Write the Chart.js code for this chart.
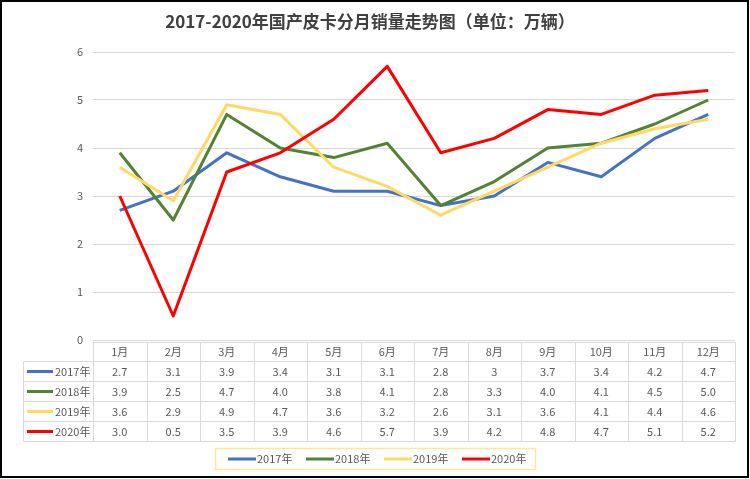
<!DOCTYPE html>
<html>
<head>
<meta charset="utf-8">
<script src="https://cdn.jsdelivr.net/npm/chart.js@4/dist/chart.umd.min.js"></script>
<style>
body { margin: 0; background: #fff; }
canvas { display: block; }
</style>
</head>
<body>
<canvas id="chart" width="750" height="479"></canvas>
<script>
let months = ["1月", "2月", "3月", "4月", "5月", "6月", "7月", "8月", "9月", "10月", "11月", "12月"];
let seriesNames = ["2017年", "2018年", "2019年", "2020年"];
let sales2017 = [2.7, 3.1, 3.9, 3.4, 3.1, 3.1, 2.8, 3, 3.7, 3.4, 4.2, 4.7];
let sales2018 = [3.9, 2.5, 4.7, 4.0, 3.8, 4.1, 2.8, 3.3, 4.0, 4.1, 4.5, 5.0];
let sales2019 = [3.6, 2.9, 4.9, 4.7, 3.6, 3.2, 2.6, 3.1, 3.6, 4.1, 4.4, 4.6];
let sales2020 = [3.0, 0.5, 3.5, 3.9, 4.6, 5.7, 3.9, 4.2, 4.8, 4.7, 5.1, 5.2];
let yMin = 0, yMax = 6, yStep = 1;

let title = "2017-2020年国产皮卡分月销量走势图（单位：万辆）";
let colors = ["#4472C4", "#548235", "#FFD966", "#FF0000"];
let allSales = [sales2017, sales2018, sales2019, sales2020];
let font = '"Noto Sans CJK SC", "Noto Sans", sans-serif';
let textColor = "#595959";
let lineColor = "#D9D9D9";

// the 2017 row keeps its raw numbers ("3"), the others show one decimal
function cellText(s, v)
{
    return s == 0 ? String(v) : v.toFixed(1);
}

let extras = {
    id: "extras",
    afterDraw: function(chart)
    {
        let ctx = chart.ctx;
        let x = chart.scales.x;
        let step = x.getPixelForValue(1) - x.getPixelForValue(0);
        let left = x.getPixelForValue(0) - step / 2;
        let right = x.getPixelForValue(months.length - 1) + step / 2;
        let rows = [342, 361.5, 381.5, 401.5, 421.5, 441.5];
        let labelLeft = 23.5;

        ctx.save();

        // title
        ctx.fillStyle = "#404040";
        ctx.font = "bold 17px " + font;
        ctx.textAlign = "center";
        ctx.textBaseline = "middle";
        ctx.fillText(title, 370, 22);

        // table grid
        ctx.strokeStyle = lineColor;
        ctx.lineWidth = 1;
        ctx.beginPath();
        ctx.moveTo(left, rows[0] + 0.5);
        ctx.lineTo(right, rows[0] + 0.5);
        for (let r = 1; r < rows.length; r++)
        {
            ctx.moveTo(labelLeft, rows[r]);
            ctx.lineTo(right, rows[r]);
        }
        ctx.moveTo(labelLeft, rows[1]);
        ctx.lineTo(labelLeft, rows[rows.length - 1]);
        for (let i = 0; i <= months.length; i++)
        {
            let px = Math.round(left + i * step) + 0.5;
            ctx.moveTo(px, rows[0]);
            ctx.lineTo(px, rows[rows.length - 1]);
        }
        ctx.stroke();

        // table text
        ctx.font = "11px " + font;
        ctx.fillStyle = textColor;
        ctx.textAlign = "center";
        for (let i = 0; i < months.length; i++)
        {
            let cx = x.getPixelForValue(i);
            ctx.fillText(months[i], cx, (rows[0] + rows[1]) / 2);
            for (let s = 0; s < allSales.length; s++)
            {
                ctx.fillText(cellText(s, allSales[s][i]), cx, (rows[s + 1] + rows[s + 2]) / 2);
            }
        }

        // row labels with line keys
        ctx.textAlign = "left";
        ctx.lineWidth = 3;
        for (let s = 0; s < seriesNames.length; s++)
        {
            let cy = (rows[s + 1] + rows[s + 2]) / 2;
            ctx.strokeStyle = colors[s];
            ctx.beginPath();
            ctx.moveTo(27, cy);
            ctx.lineTo(53, cy);
            ctx.stroke();
            ctx.fillText(seriesNames[s], 55, cy);
        }

        // legend box
        ctx.strokeStyle = "#FFE699";
        ctx.lineWidth = 1.5;
        ctx.strokeRect(215.5, 448.5, 320, 21);
        for (let s = 0; s < seriesNames.length; s++)
        {
            let lx = 228 + s * 78;
            ctx.strokeStyle = colors[s];
            ctx.lineWidth = 3;
            ctx.beginPath();
            ctx.moveTo(lx, 459);
            ctx.lineTo(lx + 28, 459);
            ctx.stroke();
            ctx.fillText(seriesNames[s], lx + 29, 459);
        }

        // outer frame
        ctx.strokeStyle = "#000";
        ctx.lineWidth = 2;
        ctx.strokeRect(1, 1, 747, 476);

        ctx.restore();
    }
};

Chart.defaults.font.family = font;

let myChart = document.getElementById("chart").getContext("2d");
let display = new Chart(myChart,
{
    type: "line",
    data:
    {
        labels: months,
        datasets: seriesNames.map(function(name, s)
        {
            return {
                label: name,
                data: allSales[s],
                borderColor: colors[s],
                backgroundColor: colors[s],
                borderWidth: 3,
                pointRadius: 0,
                tension: 0,
                borderJoinStyle: "round",
                order: seriesNames.length - s
            };
        })
    },
    options:
    {
        responsive: false,
        animation: false,
        layout: { padding: { top: 52, left: 0, right: 15, bottom: 0 } },
        plugins:
        {
            legend: { display: false },
            tooltip: { enabled: false }
        },
        scales:
        {
            x:
            {
                offset: true,
                grid: { display: false },
                border: { display: false },
                ticks: { display: false },
                afterFit: function(scale) { scale.height = 139; }
            },
            y:
            {
                min: yMin,
                max: yMax,
                grid: { color: lineColor, lineWidth: 1, drawTicks: false },
                border: { display: false },
                ticks: { stepSize: yStep, padding: 10, color: textColor, font: { size: 11 } },
                afterFit: function(scale) { scale.width = 93; }
            }
        }
    },
    plugins: [extras]
});
</script>
</body>
</html>
